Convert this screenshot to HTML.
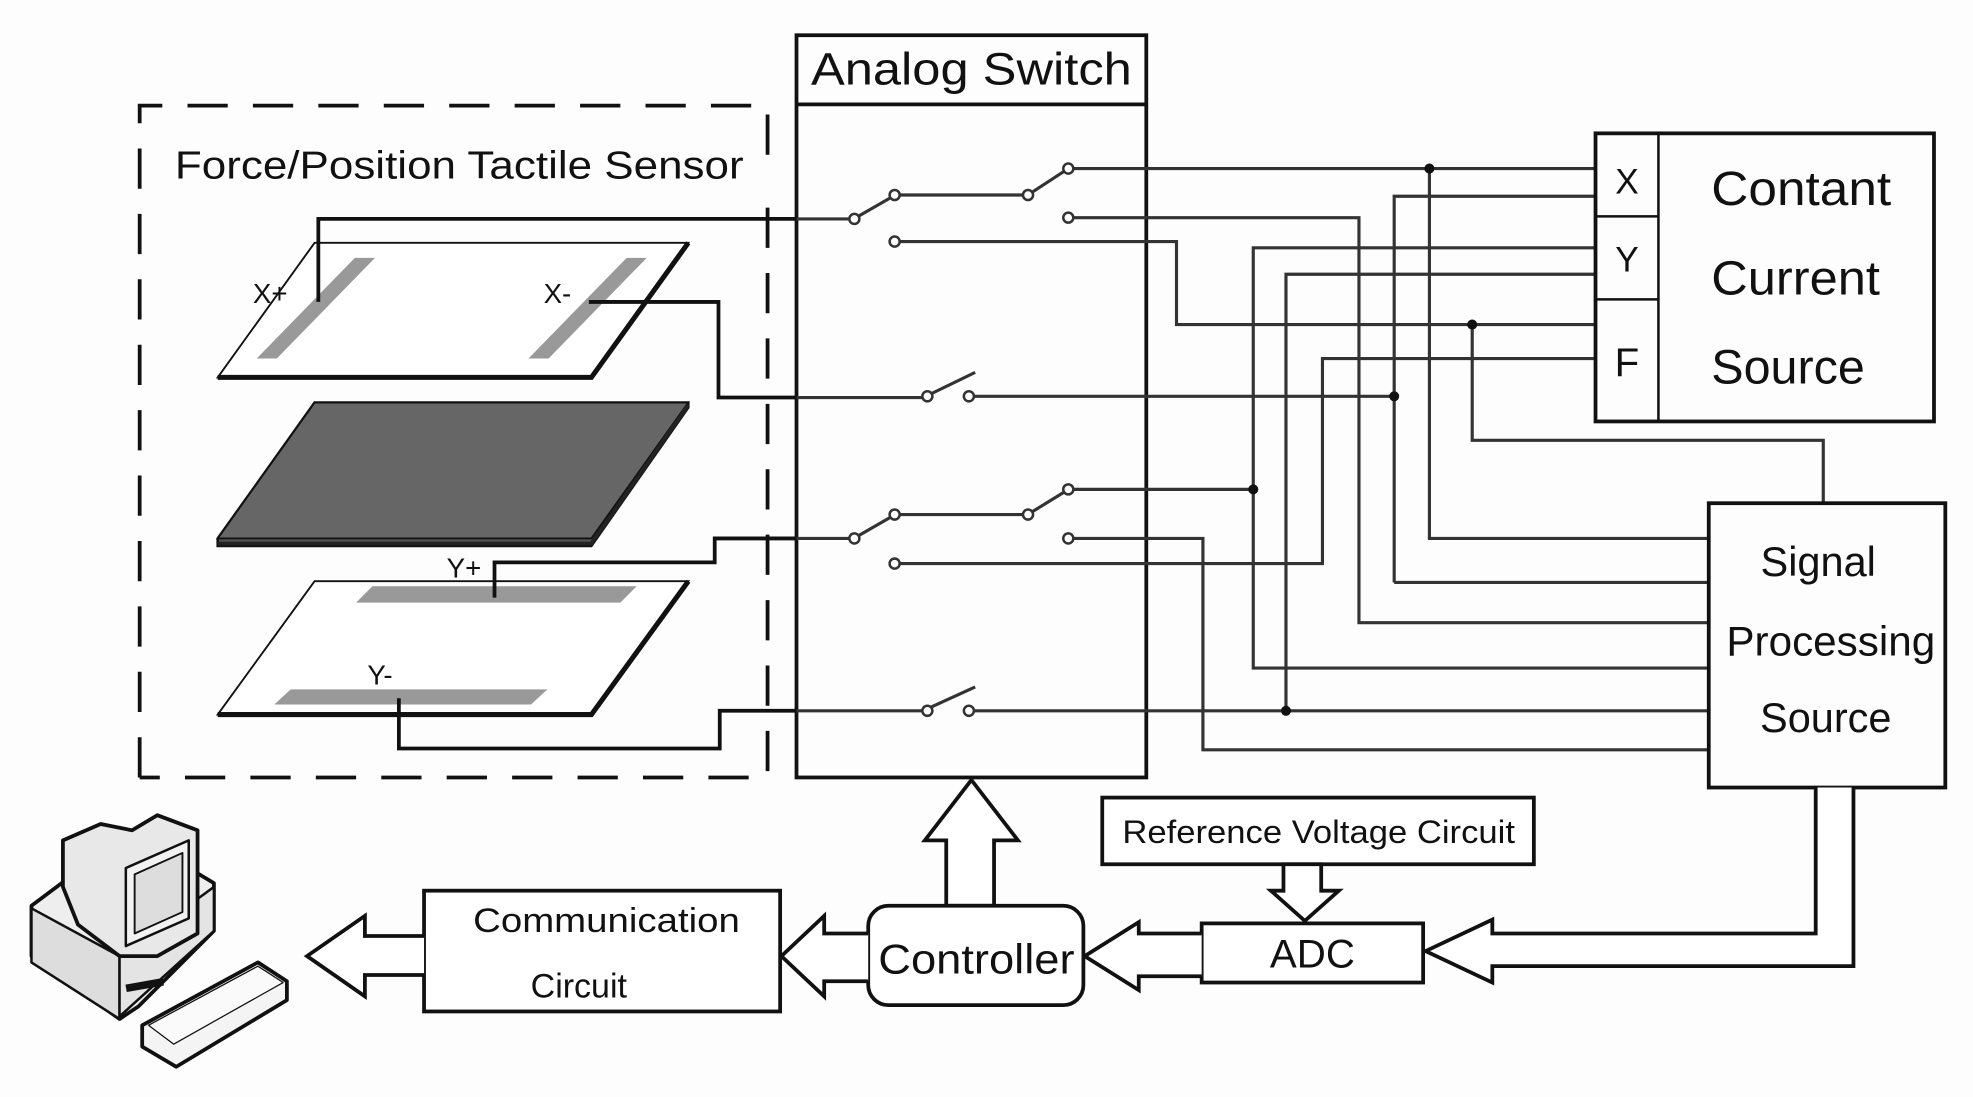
<!DOCTYPE html>
<html><head><meta charset="utf-8"><style>
html,body{margin:0;padding:0;background:#fdfdfd;}
svg{display:block;}
text{font-family:"Liberation Sans",sans-serif;fill:#111;}
</style></head><body>
<svg width="1973" height="1097" viewBox="0 0 1568 872" preserveAspectRatio="none" xmlns="http://www.w3.org/2000/svg">
<rect width="1568" height="872" fill="#fdfdfd"/>

<!-- Dashed sensor box -->
<path d="M111 618 L111 84 L610 84 L610 140" fill="none" stroke="#111" stroke-width="3" stroke-dasharray="32 20"/>
<path d="M610 165 L610 618 L111 618" fill="none" stroke="#111" stroke-width="3" stroke-dasharray="32 20"/>
<text x="139" y="142" font-size="31" textLength="452" lengthAdjust="spacingAndGlyphs">Force/Position Tactile Sensor</text>

<!-- Plate 1 -->
<polygon points="173,300 470,300 547,193 250,193" fill="#fff" stroke="#111" stroke-width="1.5"/>
<polyline points="173,300 470,300 547,193" fill="none" stroke="#111" stroke-width="4"/>
<polygon points="204,285 220,285 298,205 282,205" fill="#999"/>
<polygon points="420,285 436,285 514,205 498,205" fill="#999"/>
<text x="201" y="241" font-size="22">X+</text>
<text x="432" y="241" font-size="22">X-</text>

<!-- Plate 2 -->
<polygon points="173,434 470,434 547,324 547,320 250,320 173,428" fill="#555" stroke="#111" stroke-width="2"/>
<polygon points="173,428 470,428 547,320 250,320" fill="#666" stroke="#111" stroke-width="1.5"/>
<polyline points="173,432 470,432 547,322" fill="none" stroke="#222" stroke-width="3"/>

<!-- Plate 3 -->
<polygon points="173,568 470,568 547,462 250,462" fill="#fff" stroke="#111" stroke-width="1.5"/>
<polyline points="173,568 470,568 547,462" fill="none" stroke="#111" stroke-width="4"/>
<polygon points="283,479 493,479 506,466 296,466" fill="#999"/>
<polygon points="218,560 422,560 435,548 231,548" fill="#999"/>
<text x="355" y="459" font-size="22">Y+</text>
<text x="292" y="544" font-size="22">Y-</text>

<!-- Thick sensor wires -->
<g fill="none" stroke="#111" stroke-width="3">
<polyline points="253,240 253,174 633,174"/>
<polyline points="468,240 571,240 571,316 633,316"/>
<polyline points="393,475 393,447 568,447 568,428 633,428"/>
<polyline points="317,555 317,595 572,595 572,565 633,565"/>
</g>

<!-- Analog switch box -->
<rect x="633" y="28" width="278" height="590" fill="none" stroke="#111" stroke-width="3"/>
<line x1="633" y1="83" x2="911" y2="83" stroke="#111" stroke-width="3"/>
<text x="772" y="67" font-size="36" text-anchor="middle" textLength="255" lengthAdjust="spacingAndGlyphs">Analog Switch</text>

<!-- Thin wiring -->
<g fill="none" stroke="#333" stroke-width="2.5">
<line x1="633" y1="174" x2="675" y2="174"/>
<line x1="682" y1="172" x2="708" y2="157"/>
<line x1="715" y1="155" x2="813" y2="155"/>
<line x1="820" y1="153" x2="846" y2="136"/>
<line x1="853" y1="134" x2="1268" y2="134"/>
<polyline points="853,173 1080,173 1080,495 1358,495"/>
<polyline points="715,192 935,192 935,258 1268,258"/>
<polyline points="1108,463 1108,156 1268,156"/>
<line x1="1108" y1="463" x2="1358" y2="463"/>
<polyline points="1136,134 1136,428 1358,428"/>
<polyline points="1268,197 996,197 996,531 1358,531"/>
<polyline points="1268,218 1022,218 1022,565"/>
<polyline points="1268,285 1051,285 1051,448 715,448"/>
<polyline points="1170,258 1170,350 1449,350 1449,400"/>
<line x1="633" y1="316" x2="733" y2="316"/>
<line x1="740" y1="313" x2="775" y2="296"/>
<line x1="774" y1="315" x2="1108" y2="315"/>

<line x1="633" y1="428" x2="675" y2="428"/>
<line x1="682" y1="426" x2="708" y2="411"/>
<line x1="715" y1="409" x2="813" y2="409"/>
<line x1="820" y1="407" x2="846" y2="391"/>
<line x1="853" y1="389" x2="996" y2="389"/>
<polyline points="853,428 956,428 956,596 1358,596"/>

<line x1="633" y1="565" x2="733" y2="565"/>
<line x1="740" y1="562" x2="775" y2="546"/>
<line x1="774" y1="565" x2="1358" y2="565"/>
</g>
<g fill="#fff" stroke="#333" stroke-width="2">
<circle cx="679" cy="174" r="4"/><circle cx="711" cy="155" r="4"/><circle cx="817" cy="155" r="4"/>
<circle cx="849" cy="134" r="4"/><circle cx="849" cy="173" r="4"/><circle cx="711" cy="192" r="4"/>
<circle cx="737" cy="315" r="4"/><circle cx="770" cy="315" r="4"/>
<circle cx="679" cy="428" r="4"/><circle cx="711" cy="409" r="4"/><circle cx="817" cy="409" r="4"/>
<circle cx="849" cy="389" r="4"/><circle cx="849" cy="428" r="4"/><circle cx="711" cy="448" r="4"/>
<circle cx="737" cy="565" r="4"/><circle cx="770" cy="565" r="4"/>
</g>
<g fill="#111">
<circle cx="1136" cy="134" r="4"/><circle cx="1108" cy="315" r="4"/><circle cx="1170" cy="258" r="4"/>
<circle cx="996" cy="389" r="4"/><circle cx="1022" cy="565" r="4"/>
</g>

<!-- Constant current source -->
<rect x="1268" y="106" width="269" height="229" fill="none" stroke="#111" stroke-width="3"/>
<line x1="1318" y1="106" x2="1318" y2="335" stroke="#111" stroke-width="2"/>
<line x1="1268" y1="172" x2="1318" y2="172" stroke="#111" stroke-width="2"/>
<line x1="1268" y1="238" x2="1318" y2="238" stroke="#111" stroke-width="2"/>
<text x="1293" y="154" font-size="28" text-anchor="middle">X</text>
<text x="1293" y="216" font-size="28" text-anchor="middle">Y</text>
<text x="1293" y="299" font-size="32" text-anchor="middle">F</text>
<text x="1360" y="163" font-size="38" textLength="143" lengthAdjust="spacingAndGlyphs">Contant</text>
<text x="1360" y="234" font-size="38" textLength="134" lengthAdjust="spacingAndGlyphs">Current</text>
<text x="1360" y="305" font-size="38" textLength="122" lengthAdjust="spacingAndGlyphs">Source</text>

<!-- Signal processing source -->
<rect x="1358" y="400" width="188" height="226" fill="#fdfdfd" stroke="#111" stroke-width="3"/>
<text x="1445" y="458" font-size="33" text-anchor="middle">Signal</text>
<text x="1455" y="521" font-size="33" text-anchor="middle" textLength="166" lengthAdjust="spacingAndGlyphs">Processing</text>
<text x="1451" y="582" font-size="33" text-anchor="middle">Source</text>

<!-- Bottom blocks -->
<g fill="#fff" stroke="#111" stroke-width="3">
<path d="M772 620 L809 668 L790 668 L790 720 L752 720 L752 668 L735 668 Z"/>
<rect x="876" y="634" width="343" height="53"/>
<path d="M1020 687 L1050 687 L1050 708 L1064 708 L1037 732 L1010 708 L1020 708 Z"/>
<rect x="955" y="734" width="176" height="47"/>
<path d="M955 742 L905 742 L905 733 L862 760 L905 787 L905 776 L955 776" />
<path d="M1443 626 L1443 742 L1186 742 L1186 731 L1133 756 L1186 781 L1186 768 L1473 768 L1473 626"/>
<rect x="690" y="720" width="171" height="79" rx="16"/>
<path d="M690 742 L655 742 L655 728 L621 760 L655 792 L655 780 L690 780"/>
<rect x="337" y="708" width="283" height="96"/>
<path d="M337 744 L290 744 L290 728 L244 760 L290 792 L290 775 L337 775"/>
</g>
<text x="1048" y="670" font-size="26" text-anchor="middle" textLength="312" lengthAdjust="spacingAndGlyphs">Reference Voltage Circuit</text>
<text x="1043" y="769" font-size="32" text-anchor="middle">ADC</text>
<text x="776" y="774" font-size="33" text-anchor="middle" textLength="156" lengthAdjust="spacingAndGlyphs">Controller</text>
<text x="482" y="741" font-size="27" text-anchor="middle" textLength="212" lengthAdjust="spacingAndGlyphs">Communication</text>
<text x="460" y="793" font-size="27" text-anchor="middle">Circuit</text>

<!-- Computer icon -->
<g stroke="#111" stroke-width="3" stroke-linejoin="round">
<polygon points="25,720 65,690 150,690 170,702 170,740 110,800 95,810 25,760" fill="#eee"/>
<polygon points="25,722 95,760 95,810 25,765" fill="#ddd" stroke-width="2"/>
<polygon points="95,760 170,705 170,740 95,808" fill="#e4e4e4" stroke-width="2"/>
<polygon points="50,668 80,655 105,660 125,648 157,660 157,742 125,760 95,760 62,735 50,705" fill="#e8e8e8"/>
<polygon points="100,690 150,668 150,730 100,752" fill="#f2f2f2" stroke-width="2"/>
<polygon points="107,695 145,678 145,725 107,742" fill="#ddd" stroke-width="1.5"/>
<polygon points="113,815 205,765 228,780 228,795 140,848 113,832" fill="#f4f4f4"/>
<polygon points="118,815 205,768 225,781 138,830" fill="#fafafa" stroke-width="1"/>
</g>
<rect x="100" y="780" width="30" height="6" fill="#111" transform="rotate(-10 115 783)"/>
</svg>
</body></html>
